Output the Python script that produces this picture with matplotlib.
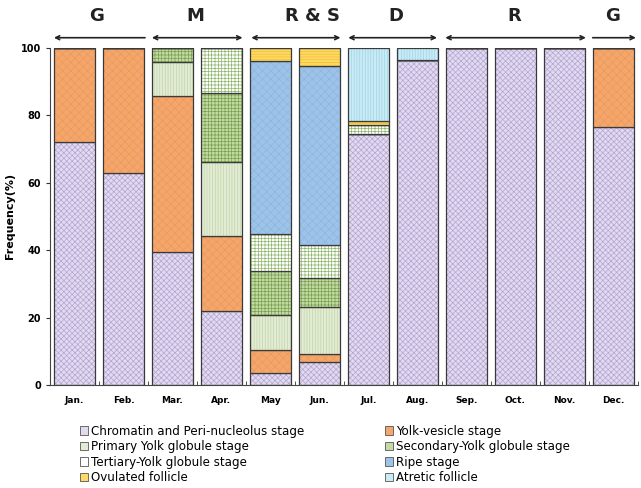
import numpy as np
import matplotlib.pyplot as plt
from matplotlib.patches import Patch

plt.rcParams['hatch.linewidth'] = 0.5

months = ['Jan.', 'Feb.', 'Mar.', 'Apr.', 'May', 'Jun.', 'Jul.', 'Aug.', 'Sep.', 'Oct.', 'Nov.', 'Dec.']

# Frequency (%) of each stage per month
chromatin = [72, 63, 39.5, 22, 3.7, 6.9, 74.4, 96.4, 100, 100, 100, 76.5]
yolk_vesicle = [28, 37, 46.3, 22.2, 6.7, 2.3, 0, 0, 0, 0, 0, 23.5]
primary = [0, 0, 10, 22, 10.4, 14, 0, 0, 0, 0, 0, 0]
secondary = [0, 0, 4.2, 20.4, 13.1, 8.4, 0, 0, 0, 0, 0, 0]
tertiary = [0, 0, 0, 13.4, 10.9, 9.9, 2.8, 0, 0, 0, 0, 0]
ripe = [0, 0, 0, 0, 51.4, 53.2, 0, 0, 0, 0, 0, 0]
ovulated = [0, 0, 0, 0, 3.8, 5.3, 1.2, 0, 0, 0, 0, 0]
atretic = [0, 0, 0, 0, 0, 0, 21.6, 3.6, 0, 0, 0, 0]

labels = ['Chromatin and Peri-nucleolus stage', 'Yolk-vesicle stage',
          'Primary Yolk globule stage', 'Secondary-Yolk globule stage',
          'Tertiary-Yolk globule stage', 'Ripe stage',
          'Ovulated follicle', 'Atretic follicle']
series = [chromatin, yolk_vesicle, primary, secondary, tertiary, ripe, ovulated, atretic]

# face colour, hatch, hatch colour
styles = [
    ('#e2daee', 'xxxxxx', '#b5a5d5'),
    ('#f5a66a', 'xxxx', '#eb9a5c'),
    ('#e2ebd3', '||||||', '#c3d5aa'),
    ('#c4d9a4', '+++++', '#77a04f'),
    ('#ffffff', '+++++', '#8db56a'),
    ('#9dc3e9', 'xxxx', '#8db6e0'),
    ('#ffd966', '------', '#efbf2c'),
    ('#c8ebf5', '||||||', '#9fd3e6'),
]

groups = [('G', 0.46), ('M', 2.47), ('R & S', 4.86), ('D', 6.57), ('R', 8.97), ('G', 10.99)]
group_arrows = [(-0.42, 1.44, '<-'), (1.58, 3.43, '<->'), (3.61, 5.43, '<->'),
                (5.59, 7.40, '<->'), (7.57, 10.44, '<->'), (10.58, 11.46, '->')]

fig = plt.figure(figsize=(6.41, 4.88), dpi=100)
ax = fig.add_axes([0.078, 0.211, 0.917, 0.691])

x = np.arange(len(months))
width = 0.84
bottom = np.zeros(len(months))
for vals, (fc, hatch, hc) in zip(series, styles):
    vals = np.array(vals, dtype=float)
    ax.bar(x, vals, width, bottom=bottom, color=fc, hatch=hatch,
           edgecolor=hc, linewidth=0)
    ax.bar(x, vals, width, bottom=bottom, fill=False,
           edgecolor='#3a3a3a', linewidth=0.9)
    bottom += vals

handles = [Patch(facecolor=fc, edgecolor='#555555', linewidth=0.6, label=lab)
           for (fc, hatch, hc), lab in zip(styles, labels)]

order = [0, 2, 4, 6, 1, 3, 5, 7]
fig.legend([handles[i] for i in order], [labels[i] for i in order],
           loc='upper left', bbox_to_anchor=(0.125, 0.13), ncol=2,
           frameon=False, fontsize=8.6, handlelength=0.7, handleheight=0.7,
           handletextpad=0.25, labelspacing=0.22, columnspacing=6.7,
           borderpad=0, borderaxespad=0)

ax.set_xlim(-0.5, 11.5)
ax.set_ylim(0, 100)
ax.set_yticks([0, 20, 40, 60, 80, 100])
ax.set_xticks(x)
ax.set_xticklabels(months, fontsize=6.5, fontweight='bold')
ax.set_xticks(np.arange(-0.5, 11.6, 1), minor=True)
ax.tick_params(axis='x', which='major', length=0, pad=8)
ax.tick_params(axis='x', which='minor', length=3, direction='in', color='#333333')
ax.tick_params(axis='y', labelsize=7, length=3, color='#333333')
for t in ax.get_yticklabels():
    t.set_fontweight('bold')
ax.set_ylabel('Frequency(%)', fontsize=8, fontweight='bold', labelpad=4)
ax.spines['top'].set_visible(False)
ax.spines['right'].set_visible(False)
ax.spines['left'].set_color('#444444')
ax.spines['bottom'].set_color('#444444')

for name, gx in groups:
    ax.text(gx, 109.5, name, ha='center', va='center', fontsize=13,
            fontweight='bold', color='#222222', clip_on=False)
for x0, x1, style in group_arrows:
    ax.annotate('', xy=(x1, 103), xytext=(x0, 103), xycoords='data',
                annotation_clip=False,
                arrowprops=dict(arrowstyle=style, color='#222222', lw=1.2,
                                shrinkA=0, shrinkB=0, mutation_scale=7))

fig.savefig('out.png', dpi=100)
